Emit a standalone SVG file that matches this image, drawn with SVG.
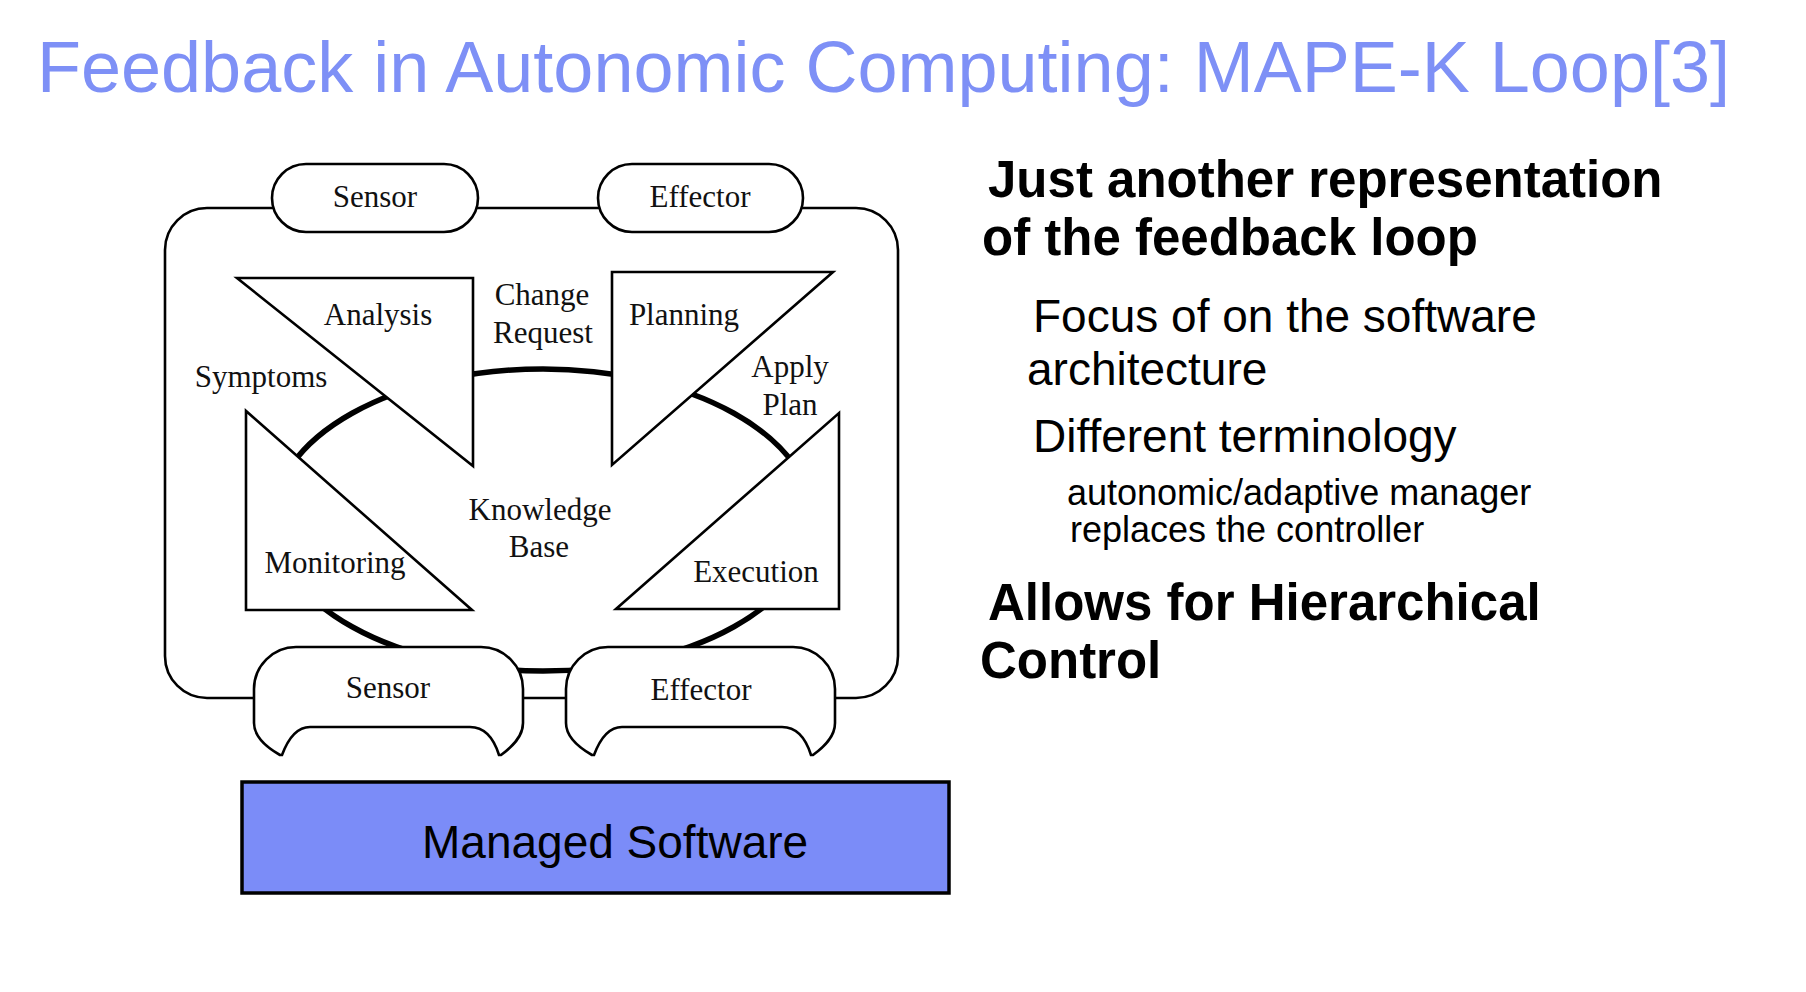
<svg xmlns="http://www.w3.org/2000/svg" width="1806" height="992" viewBox="0 0 1806 992">
<style>
.bg{fill:#ffffff}
.ln{fill:#ffffff;stroke:#000;stroke-width:2.6;stroke-linejoin:miter}
.frame{fill:none;stroke:#000;stroke-width:2.6}
.kb{fill:none;stroke:#000;stroke-width:5.5}
.lbl{font-family:"Liberation Serif","Times New Roman",serif;font-size:31px;fill:#111;text-anchor:middle}
.title{font-family:"Liberation Sans",Arial,sans-serif;font-size:72px;fill:#7e90f6}
.b1{font-family:"Liberation Sans",Arial,sans-serif;font-size:51px;font-weight:bold;fill:#000}
.b2{font-family:"Liberation Sans",Arial,sans-serif;font-size:46px;fill:#000}
.b3{font-family:"Liberation Sans",Arial,sans-serif;font-size:36px;fill:#000}
.ms{fill:#7b8cf8;stroke:#000;stroke-width:3.5}
.mst{font-family:"Liberation Sans",Arial,sans-serif;font-size:46px;fill:#000}
</style>
<defs>
<path id="port" d="M 0,42 C 0,19 19,0 42,0 L 227,0 C 250,0 269,19 269,42 L 269,76 C 269,90 258,100 247,108 L 245,108 C 240,92 232,80 216,80 L 56,80 C 42,80 34,92 28,108 L 26,108 C 12,100 0,90 0,76 Z"/>
</defs>
<rect class="bg" x="0" y="0" width="1806" height="992"/>

<text class="title" x="37" y="92" textLength="1693" lengthAdjust="spacingAndGlyphs">Feedback in Autonomic Computing: MAPE-K Loop[3]</text>

<g id="connectors">
  <rect class="frame" x="165" y="208" width="733" height="490" rx="42" ry="42"/>
  <ellipse class="kb" cx="543" cy="520" rx="270" ry="151"/>
</g>

<g id="sensor-top">
  <rect class="ln" x="272" y="164" width="206" height="68" rx="34" ry="34"/>
  <text class="lbl" x="375" y="207">Sensor</text>
</g>
<g id="effector-top">
  <rect class="ln" x="598" y="164" width="205" height="68" rx="34" ry="34"/>
  <text class="lbl" x="700" y="207">Effector</text>
</g>

<g id="analysis">
  <polygon class="ln" points="237,278 473,278 473,466"/>
  <text class="lbl" x="378" y="325">Analysis</text>
</g>
<g id="planning">
  <polygon class="ln" points="612,272 833,272 612,465"/>
  <text class="lbl" x="684" y="325">Planning</text>
</g>
<g id="monitoring">
  <polygon class="ln" points="246,411 246,610 472,610"/>
  <text class="lbl" x="335" y="573">Monitoring</text>
</g>
<g id="execution">
  <polygon class="ln" points="839,413 839,609 616,609"/>
  <text class="lbl" x="756" y="582">Execution</text>
</g>

<g id="labels">
  <text class="lbl" x="261" y="387">Symptoms</text>
  <text class="lbl" x="542" y="305">Change</text>
  <text class="lbl" x="543" y="343">Request</text>
  <text class="lbl" x="790" y="377">Apply</text>
  <text class="lbl" x="790" y="415">Plan</text>
</g>

<g id="knowledge-base">
  <text class="lbl" x="540" y="520">Knowledge</text>
  <text class="lbl" x="539" y="557">Base</text>
</g>

<g id="sensor-bottom">
  <use href="#port" class="ln" transform="translate(254,647)"/>
  <text class="lbl" x="388" y="698">Sensor</text>
</g>
<g id="effector-bottom">
  <use href="#port" class="ln" transform="translate(566,647)"/>
  <text class="lbl" x="701" y="700">Effector</text>
</g>

<g id="managed-software">
  <rect class="ms" x="242" y="782" width="707" height="111"/>
  <text class="mst" x="422" y="858">Managed Software</text>
</g>

<g id="notes">
  <text class="b1" x="988" y="197">Just another representation</text>
  <text class="b1" x="982" y="255">of the feedback loop</text>
  <text class="b2" x="1033" y="332">Focus of on the software</text>
  <text class="b2" x="1027" y="385">architecture</text>
  <text class="b2" x="1033" y="452">Different terminology</text>
  <text class="b3" x="1067" y="505">autonomic/adaptive manager</text>
  <text class="b3" x="1070" y="542">replaces the controller</text>
  <text class="b1" x="988" y="620">Allows for Hierarchical</text>
  <text class="b1" x="980" y="678">Control</text>
</g>
</svg>
